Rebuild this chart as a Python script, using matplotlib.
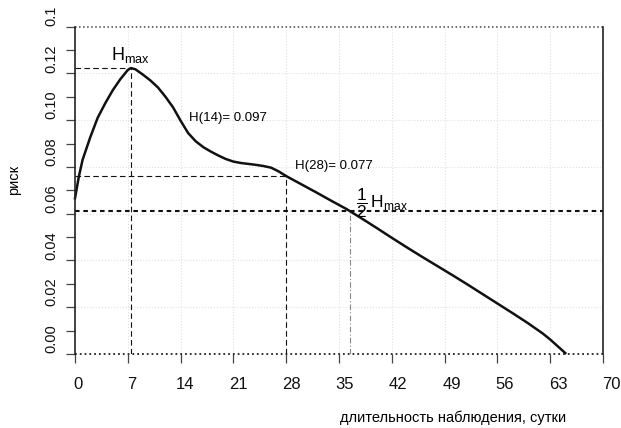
import numpy as np
import matplotlib
matplotlib.use("Agg")
import matplotlib.pyplot as plt
import matplotlib.transforms as mtransforms

plt.rcParams['font.family'] = ['Liberation Sans Narrow', 'Liberation Sans', 'DejaVu Sans']

# risk curve
days = np.array([0, 0.5, 1, 2, 3, 4, 5, 6, 7, 7.4, 8, 9, 10, 11, 12, 13, 14, 15, 16, 17,
                 18, 19, 20, 21, 22, 23, 24, 25, 26, 27, 28, 30, 32, 34, 36, 38, 40, 42,
                 44, 46, 48, 50, 52, 54, 56, 58, 60, 62, 63, 64, 65])
risk = np.array([0.0666, 0.0757, 0.0830, 0.0925, 0.1010, 0.1072, 0.1128, 0.1175, 0.1215,
                 0.1223, 0.1218, 0.1195, 0.1170, 0.1140, 0.1100, 0.1055, 0.0998, 0.0945,
                 0.0910, 0.0885, 0.0866, 0.0849, 0.0834, 0.0823, 0.0817, 0.0813, 0.0809,
                 0.0804, 0.0797, 0.0781, 0.0761, 0.0726, 0.0691, 0.0655, 0.0620, 0.0580,
                 0.0539, 0.0497, 0.0456, 0.0416, 0.0377, 0.0338, 0.0298, 0.0257, 0.0216,
                 0.0175, 0.0133, 0.0088, 0.0062, 0.0033, 0.0004])

xticks = [0, 7, 14, 21, 28, 35, 42, 49, 56, 63, 70]
yticks = [0, 0.01, 0.02, 0.03, 0.04, 0.05, 0.06, 0.07, 0.08, 0.09, 0.10, 0.11, 0.12, 0.13, 0.14]
ylabel_vals = [0, 0.02, 0.04, 0.06, 0.08, 0.10, 0.12, 0.138]
ylabel_text = ["0.00", "0.02", "0.04", "0.06", "0.08", "0.10", "0.12", "0.1"]
ygrid = [0.02, 0.04, 0.06, 0.08, 0.10, 0.12]
h14_text = "H(14)= 0.097"
h28_text = "H(28)= 0.077"

fig = plt.figure(figsize=(6.21, 4.28), dpi=100)
ax = fig.add_axes([75 / 621, 74 / 428, 528 / 621, 327.3 / 428])
ax.set_xlim(0, 70)
ax.set_ylim(0, 0.14)

for s in ['top', 'bottom']:
    ax.spines[s].set_visible(False)
for s in ['left', 'right']:
    ax.spines[s].set_linewidth(1.2)
    ax.spines[s].set_color('#222222')

ax.set_xticks(xticks)
ax.set_yticks(yticks)
ax.set_xticklabels([])
ax.set_yticklabels([])
ax.tick_params(axis='both', direction='out', length=6.5, width=0.9, color='#444444')
ax.tick_params(axis='y', right=False)

# faint grid
for gx in xticks[1:-1]:
    ax.axvline(gx, color='#e0e0e0', lw=0.8, ls=':', zorder=0)
for gy in ygrid:
    ax.axhline(gy, color='#e0e0e0', lw=0.8, ls=':', zorder=0)

# tick labels (slightly offset like in the scan)
tx = mtransforms.blended_transform_factory(ax.transData, ax.transAxes)
for v in xticks:
    ax.text(v + 0.4 + 0.011 * v, -0.092, str(v), transform=tx, ha='center', va='center',
            fontsize=12, color='#111111', clip_on=False)
ty = mtransforms.blended_transform_factory(ax.transAxes, ax.transData)
for v, t in zip(ylabel_vals, ylabel_text):
    ax.text(-0.044, v + 0.0065, t, transform=ty, ha='center', va='center', rotation=90,
            fontsize=10.5, color='#111111', clip_on=False)

# reference lines
i_max = int(np.argmax(risk))
hmax = risk[i_max]
dmax = days[i_max]
h28 = risk[list(days).index(28)]
desc = days >= dmax
d_half = np.interp(hmax / 2, risk[desc][::-1], days[desc][::-1])

ax.plot([0, dmax], [hmax, hmax], color='#111111', lw=0.8, dashes=(5, 3))
ax.plot([dmax, dmax], [0, hmax], color='#111111', lw=0.8, dashes=(5, 3))
ax.plot([0, 28], [h28, h28], color='#111111', lw=0.8, dashes=(5, 3))
ax.plot([28, 28], [0, h28], color='#111111', lw=0.8, dashes=(5, 3))
ax.plot([0, 70], [hmax / 2, hmax / 2], color='#111111', lw=1.5, dashes=(2.2, 1.8), clip_on=False)
ax.plot([d_half, d_half], [0, hmax / 2], color='#888888', lw=0.8, dashes=(5, 2, 1, 2))
ax.plot([0, 70], [0, 0], color='#222222', lw=1.3, ls=':', clip_on=False)
ax.plot([0, 70], [0.14, 0.14], color='#444444', lw=1.1, ls=':', clip_on=False)

ax.plot(days, risk, color='#111111', lw=1.8, clip_on=False)

# annotations
ax.text(dmax, hmax + 0.0012, r'$\mathregular{H_{max}}$', ha='center', va='bottom', fontsize=13)
ax.text(15.1, 0.101, h14_text, ha='left', va='center', fontsize=9.5)
ax.text(29.2, 0.0805, h28_text, ha='left', va='center', fontsize=9.5)
ax.text(37.2, 0.0645, r'$\mathregular{\dfrac{1}{2}\,H_{max}}$', ha='left', va='center', fontsize=12.5)

fig.text(14 / 621, 1 - 180 / 428, 'риск', rotation=90, ha='center', va='center', fontsize=10.5)
fig.text(453 / 621, 1 - 418 / 428, 'длительность наблюдения, сутки', ha='center', va='center',
         fontsize=10.5)

fig.savefig('out.png', dpi=100)
